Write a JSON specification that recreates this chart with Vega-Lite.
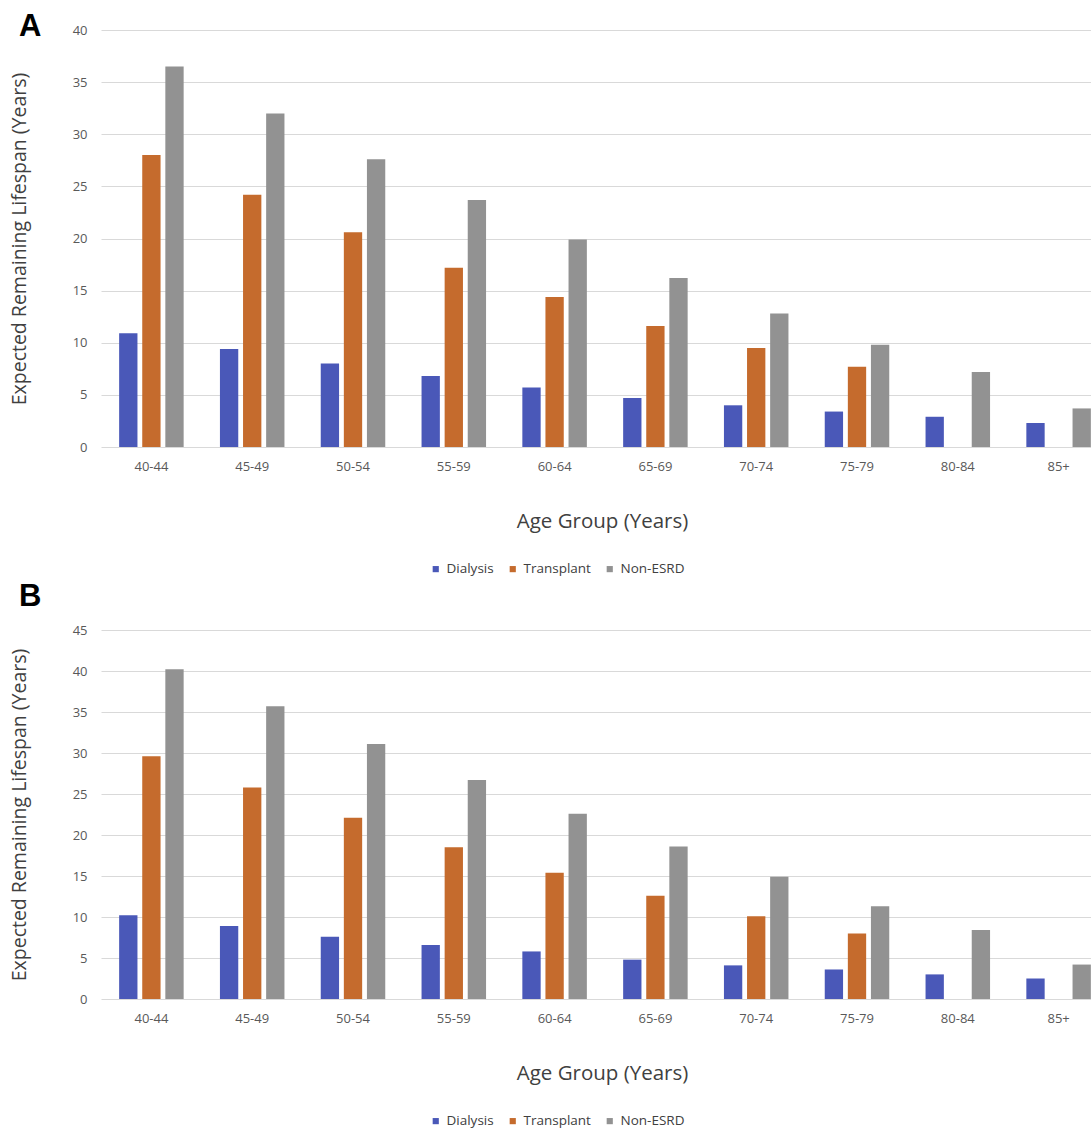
{
  "$schema": "https://vega.github.io/schema/vega-lite/v6.json",
  "padding": {"left": 8, "top": 11, "right": 0, "bottom": 0},
  "background": "white",
  "config": {
    "font": "Open Sans",
    "view": {"stroke": null},
    "axis": {"labelFont": "Open Sans", "titleFont": "Open Sans"},
    "legend": {"labelFont": "Open Sans"},
    "title": {"font": "Liberation Sans", "fontSize": 31, "fontWeight": "bold", "color": "#000000", "anchor": "start", "frame": "group"}
  },
  "datasets": {
    "A": [
      {"age": "40-44", "type": "Dialysis", "value": 10.9},
      {"age": "40-44", "type": "Transplant", "value": 28.0},
      {"age": "40-44", "type": "Non-ESRD", "value": 36.5},
      {"age": "45-49", "type": "Dialysis", "value": 9.4},
      {"age": "45-49", "type": "Transplant", "value": 24.2},
      {"age": "45-49", "type": "Non-ESRD", "value": 32.0},
      {"age": "50-54", "type": "Dialysis", "value": 8.0},
      {"age": "50-54", "type": "Transplant", "value": 20.6},
      {"age": "50-54", "type": "Non-ESRD", "value": 27.6},
      {"age": "55-59", "type": "Dialysis", "value": 6.8},
      {"age": "55-59", "type": "Transplant", "value": 17.2},
      {"age": "55-59", "type": "Non-ESRD", "value": 23.7},
      {"age": "60-64", "type": "Dialysis", "value": 5.7},
      {"age": "60-64", "type": "Transplant", "value": 14.4},
      {"age": "60-64", "type": "Non-ESRD", "value": 19.9},
      {"age": "65-69", "type": "Dialysis", "value": 4.7},
      {"age": "65-69", "type": "Transplant", "value": 11.6},
      {"age": "65-69", "type": "Non-ESRD", "value": 16.2},
      {"age": "70-74", "type": "Dialysis", "value": 4.0},
      {"age": "70-74", "type": "Transplant", "value": 9.5},
      {"age": "70-74", "type": "Non-ESRD", "value": 12.8},
      {"age": "75-79", "type": "Dialysis", "value": 3.4},
      {"age": "75-79", "type": "Transplant", "value": 7.7},
      {"age": "75-79", "type": "Non-ESRD", "value": 9.8},
      {"age": "80-84", "type": "Dialysis", "value": 2.9},
      {"age": "80-84", "type": "Non-ESRD", "value": 7.2},
      {"age": "85+", "type": "Dialysis", "value": 2.3},
      {"age": "85+", "type": "Non-ESRD", "value": 3.7}
    ],
    "B": [
      {"age": "40-44", "type": "Dialysis", "value": 10.2},
      {"age": "40-44", "type": "Transplant", "value": 29.6},
      {"age": "40-44", "type": "Non-ESRD", "value": 40.2},
      {"age": "45-49", "type": "Dialysis", "value": 8.9},
      {"age": "45-49", "type": "Transplant", "value": 25.8},
      {"age": "45-49", "type": "Non-ESRD", "value": 35.7},
      {"age": "50-54", "type": "Dialysis", "value": 7.6},
      {"age": "50-54", "type": "Transplant", "value": 22.1},
      {"age": "50-54", "type": "Non-ESRD", "value": 31.1},
      {"age": "55-59", "type": "Dialysis", "value": 6.6},
      {"age": "55-59", "type": "Transplant", "value": 18.5},
      {"age": "55-59", "type": "Non-ESRD", "value": 26.7},
      {"age": "60-64", "type": "Dialysis", "value": 5.8},
      {"age": "60-64", "type": "Transplant", "value": 15.4},
      {"age": "60-64", "type": "Non-ESRD", "value": 22.6},
      {"age": "65-69", "type": "Dialysis", "value": 4.8},
      {"age": "65-69", "type": "Transplant", "value": 12.6},
      {"age": "65-69", "type": "Non-ESRD", "value": 18.6},
      {"age": "70-74", "type": "Dialysis", "value": 4.1},
      {"age": "70-74", "type": "Transplant", "value": 10.1},
      {"age": "70-74", "type": "Non-ESRD", "value": 14.9},
      {"age": "75-79", "type": "Dialysis", "value": 3.6},
      {"age": "75-79", "type": "Transplant", "value": 8.0},
      {"age": "75-79", "type": "Non-ESRD", "value": 11.3},
      {"age": "80-84", "type": "Dialysis", "value": 3.0},
      {"age": "80-84", "type": "Non-ESRD", "value": 8.4},
      {"age": "85+", "type": "Dialysis", "value": 2.5},
      {"age": "85+", "type": "Non-ESRD", "value": 4.2}
    ]
  },
  "bounds": "flush",
  "spacing": 183,
  "resolve": {"scale": {"color": "independent", "y": "independent"}, "legend": {"color": "independent"}},
  "vconcat": [
    {
      "width": 991,
      "height": 417,
      "title": {"text": "A", "dx": -82, "dy": 43, "baseline": "alphabetic", "offset": 0},
      "data": {"name": "A"},
      "mark": {"type": "bar"},
      "encoding": {
        "x": {
          "field": "age", "type": "nominal", "sort": null,
          "scale": {"paddingInner": 0.36, "paddingOuter": 0.18, "range": [0, 1008]},
          "axis": {"title": "Age Group (Years)", "labelAngle": 0, "ticks": false, "domain": false, "labelPadding": 13, "labelFontSize": 13, "labelColor": "#595959", "titleFontSize": 20.5, "titleFontWeight": "normal", "titleColor": "#404040", "titlePadding": 38, "titleX": 501}
        },
        "xOffset": {"field": "type", "type": "nominal", "sort": ["Dialysis", "Transplant", "Non-ESRD"], "scale": {"paddingInner": 0.207, "paddingOuter": 0}},
        "y": {
          "field": "value", "type": "quantitative",
          "scale": {"domain": [0, 40]},
          "axis": {"title": "Expected Remaining Lifespan (Years)", "values": [0, 5, 10, 15, 20, 25, 30, 35, 40], "ticks": false, "domain": false, "labelPadding": 14, "labelFontSize": 13, "labelColor": "#595959", "gridColor": "#D9D9D9", "titleFontSize": 19.5, "titleFontWeight": "normal", "titleColor": "#404040", "titleX": -72}
        },
        "color": {
          "field": "type", "type": "nominal",
          "scale": {"domain": ["Dialysis", "Transplant", "Non-ESRD"], "range": ["#4A58B8", "#C56B2D", "#929292"]},
          "legend": {"title": null, "orient": "none", "direction": "horizontal", "legendX": 328, "legendY": 532, "symbolType": "square", "symbolSize": 38, "labelFontSize": 13.5, "labelColor": "#404040", "columnPadding": 12, "labelOffset": 4}
        }
      }
    },
    {
      "width": 991,
      "height": 369,
      "title": {"text": "B", "dx": -82, "dy": 13, "baseline": "alphabetic", "offset": 0},
      "data": {"name": "B"},
      "mark": {"type": "bar"},
      "encoding": {
        "x": {
          "field": "age", "type": "nominal", "sort": null,
          "scale": {"paddingInner": 0.36, "paddingOuter": 0.18, "range": [0, 1008]},
          "axis": {"title": "Age Group (Years)", "labelAngle": 0, "ticks": false, "domain": false, "labelPadding": 13, "labelFontSize": 13, "labelColor": "#595959", "titleFontSize": 20.5, "titleFontWeight": "normal", "titleColor": "#404040", "titlePadding": 38, "titleX": 501}
        },
        "xOffset": {"field": "type", "type": "nominal", "sort": ["Dialysis", "Transplant", "Non-ESRD"], "scale": {"paddingInner": 0.207, "paddingOuter": 0}},
        "y": {
          "field": "value", "type": "quantitative",
          "scale": {"domain": [0, 45]},
          "axis": {"title": "Expected Remaining Lifespan (Years)", "values": [0, 5, 10, 15, 20, 25, 30, 35, 40, 45], "ticks": false, "domain": false, "labelPadding": 14, "labelFontSize": 13, "labelColor": "#595959", "gridColor": "#D9D9D9", "titleFontSize": 19.5, "titleFontWeight": "normal", "titleColor": "#404040", "titleX": -72}
        },
        "color": {
          "field": "type", "type": "nominal",
          "scale": {"domain": ["Dialysis", "Transplant", "Non-ESRD"], "range": ["#4A58B8", "#C56B2D", "#929292"]},
          "legend": {"title": null, "orient": "none", "direction": "horizontal", "legendX": 328, "legendY": 484, "symbolType": "square", "symbolSize": 38, "labelFontSize": 13.5, "labelColor": "#404040", "columnPadding": 12, "labelOffset": 4}
        }
      }
    }
  ]
}
